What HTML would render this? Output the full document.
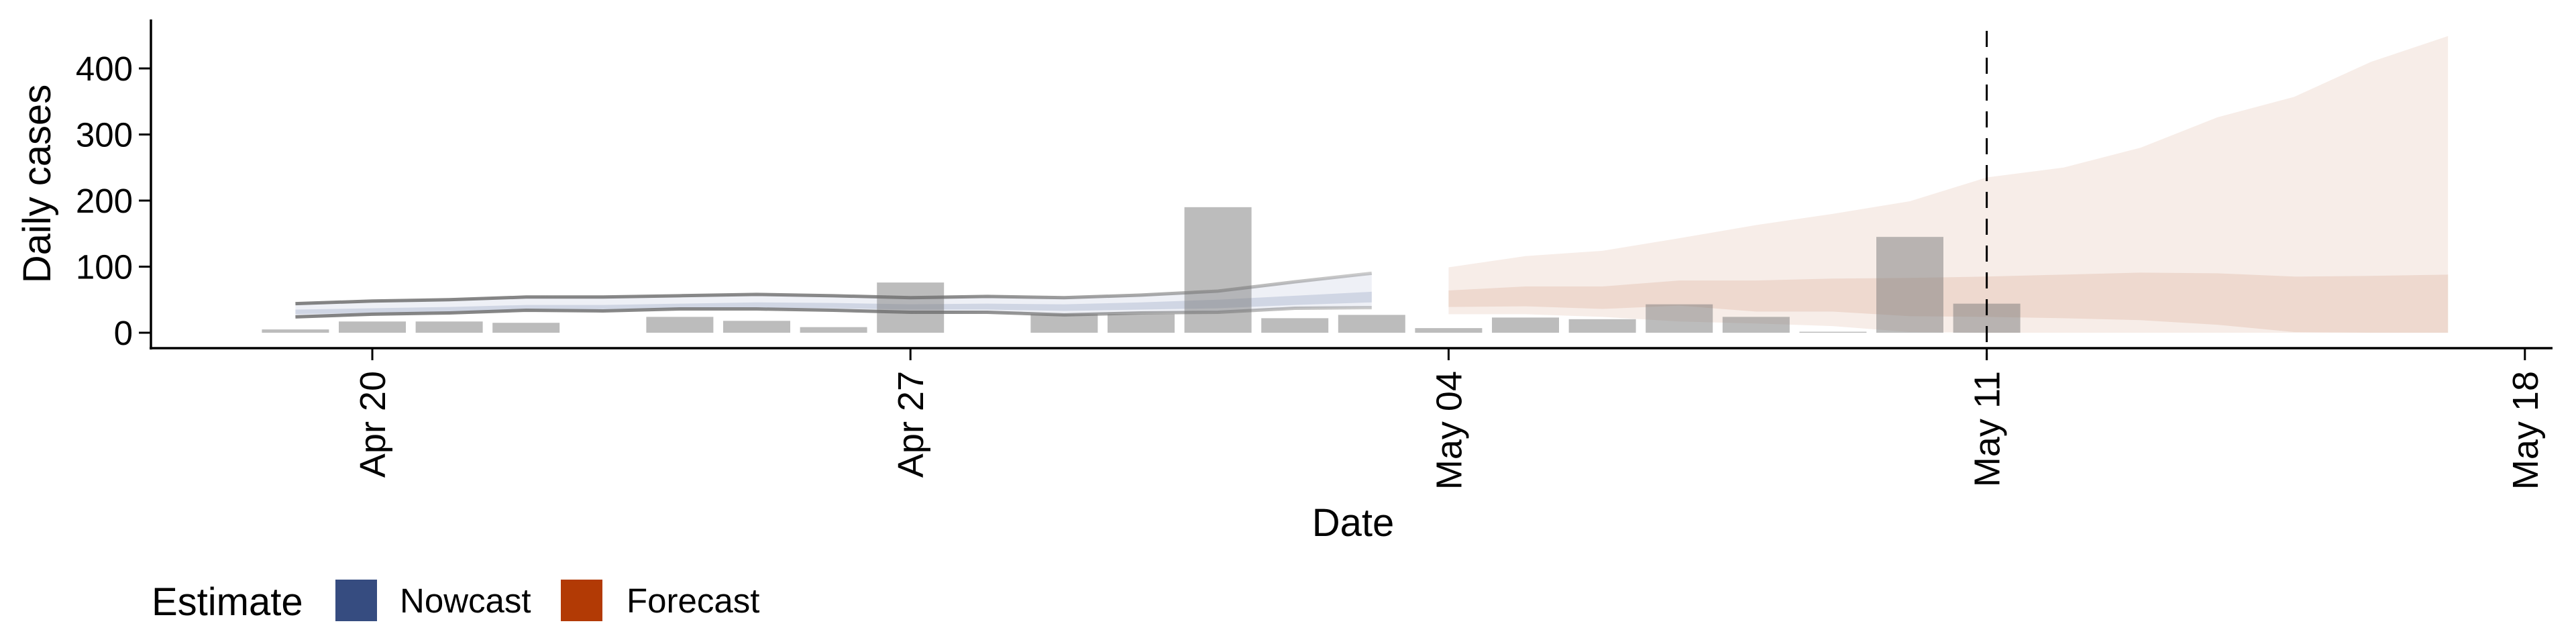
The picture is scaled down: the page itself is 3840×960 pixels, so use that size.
<!DOCTYPE html>
<html><head><meta charset="utf-8"><style>
html,body{margin:0;padding:0;background:#fff;}
svg{display:block;font-family:"Liberation Sans",Arial,sans-serif;}
</style></head><body>
<svg id="chart" width="3840" height="960" viewBox="0 0 3840 960">
<defs>
<linearGradient id="fade" gradientUnits="userSpaceOnUse" x1="440" y1="0" x2="2042" y2="0">
<stop offset="0" stop-color="#6e6e6e" stop-opacity="0.85"/>
<stop offset="0.6" stop-color="#6e6e6e" stop-opacity="0.8"/>
<stop offset="1" stop-color="#6e6e6e" stop-opacity="0.35"/>
</linearGradient>
</defs>
<g id="bands"></g>
<g id="bars"></g>
<g id="lines"></g>
<g id="axes"></g>
</svg>
<script>
const barDays = [-1,0,1,2,4,5,6,7,9,10,11,12,13,14,15,16,17,18,19,20,21];
const barValues = [5,17,17,15,24,18,8.5,76,28,28,190,22,27,7,23,20.5,43,24,1.5,145,44];
const nowDays = [-1,0,1,2,3,4,5,6,7,8,9,10,11,12,13];
const nowUpper90 = [44,48,50,54,54,56,58,56,53,55,53,57,63,77,90];
const nowLower90 = [24,28,30,34,33,36,36,34,31,31,27,30,31,37,38];
const nowUpper50 = [35,37,39,42,42,44,46,45,43,44,43,46,50,56,62];
const nowLower50 = [28,30,32,35,35,37,38,37,35,35,33,35,37,42,46];
const foreDays = [14,15,16,17,18,19,20,21,22,23,24,25,26,27];
const foreUpper90 = [99,116,124,143,163,180,199,235,250,280,326,357,410,449];
const foreLower90 = [28,28,24,17,14,10,1,0,0,0,0,0,0,0];
const foreUpper50 = [64,70,70,79,79,82,83,85,88,91,90,85,86,88];
const foreLower50 = [39,40,36,41,32,32,25,24,22,19,12,1,0,0];
const yTicks = [0,100,200,300,400];
const xTickDays = [0,7,14,21,28];
const xTickLabels = ["Apr 20","Apr 27","May 04","May 11","May 18"];
const dashedDay = 21;

const NS="http://www.w3.org/2000/svg";
const X0=555, DAY=114.6;
const xs = d => X0 + d*DAY;
const ys = v => 496 - v*0.985;
function mk(tag, attrs, parent){const e=document.createElementNS(NS,tag);for(const k in attrs)e.setAttribute(k,attrs[k]);parent.appendChild(e);return e;}
function band(days, up, lo, fill, parent, name){
  let d="M"+days.map((t,i)=>xs(t)+","+ys(up[i])).join("L");
  for(let i=days.length-1;i>=0;i--) d+="L"+xs(days[i])+","+ys(lo[i]);
  const p=mk("path",{d:d+"Z",fill:fill},parent);
  
  
}
function line(days, vals, parent, name){
  const p=mk("path",{d:"M"+days.map((t,i)=>xs(t)+","+ys(vals[i])).join("L"),fill:"none",stroke:"url(#fade)","stroke-width":5},parent);
  
  
}
const gB=document.getElementById("bands"), gBar=document.getElementById("bars"), gL=document.getElementById("lines"), gA=document.getElementById("axes");
band(nowDays, nowUpper90, nowLower90, "#eef0f6", gB, "nowcast-90-band");
band(nowDays, nowUpper50, nowLower50, "#d0d6e4", gB, "nowcast-50-band");
band(foreDays, foreUpper90, foreLower90, "#f7ede8", gB, "forecast-90-band");
band(foreDays, foreUpper50, foreLower50, "#eed9cf", gB, "forecast-50-band");
line(nowDays, nowUpper90, gL, "nowcast-upper-line");
line(nowDays, nowLower90, gL, "nowcast-lower-line");
barDays.forEach((d,i)=>{
  const r=mk("rect",{x:xs(d)-50,y:ys(barValues[i]),width:100,height:ys(0)-ys(barValues[i]),fill:"#7a7a7a","fill-opacity":0.5},gBar);
  
  
});
let a=mk("line",{x1:225,y1:29,x2:225,y2:521,stroke:"#000","stroke-width":3.5},gA);


a=mk("line",{x1:223,y1:519,x2:3805,y2:519,stroke:"#000","stroke-width":3.5},gA);


yTicks.forEach(v=>{
  const t=mk("line",{x1:207,y1:ys(v),x2:225,y2:ys(v),stroke:"#000","stroke-width":3},gA);
  
  
  const l=mk("text",{x:198,y:ys(v)+18,"text-anchor":"end","font-size":51,fill:"#000"},gA);
  l.textContent=v;
  
  
});
xTickDays.forEach((d,i)=>{
  const t=mk("line",{x1:xs(d),y1:519,x2:xs(d),y2:537,stroke:"#000","stroke-width":3},gA);
  
  
  const l=mk("text",{transform:"translate("+(xs(d)+19)+",553) rotate(-90)","text-anchor":"end","font-size":54,fill:"#000"},gA);
  l.textContent=xTickLabels[i];
  
  
});
const dl=mk("line",{x1:xs(dashedDay),y1:46,x2:xs(dashedDay),y2:537,stroke:"#000","stroke-width":3,"stroke-dasharray":"24,16"},gA);


let t=mk("text",{x:2017,y:799,"text-anchor":"middle","font-size":58,fill:"#000"},gA);
t.textContent="Date";


t=mk("text",{transform:"translate(75,274) rotate(-90)","text-anchor":"middle","font-size":58,fill:"#000"},gA);
t.textContent="Daily cases";


t=mk("text",{x:226,y:917,"font-size":58,fill:"#000"},gA);
t.textContent="Estimate";


let s=mk("rect",{x:500,y:864,width:62,height:62,fill:"#364c80"},gA);


t=mk("text",{x:596,y:913,"font-size":51,fill:"#000"},gA);
t.textContent="Nowcast";


s=mk("rect",{x:836,y:864,width:62,height:62,fill:"#b23a05"},gA);


t=mk("text",{x:934,y:913,"font-size":51,fill:"#000"},gA);
t.textContent="Forecast";


</script>
</body></html>
